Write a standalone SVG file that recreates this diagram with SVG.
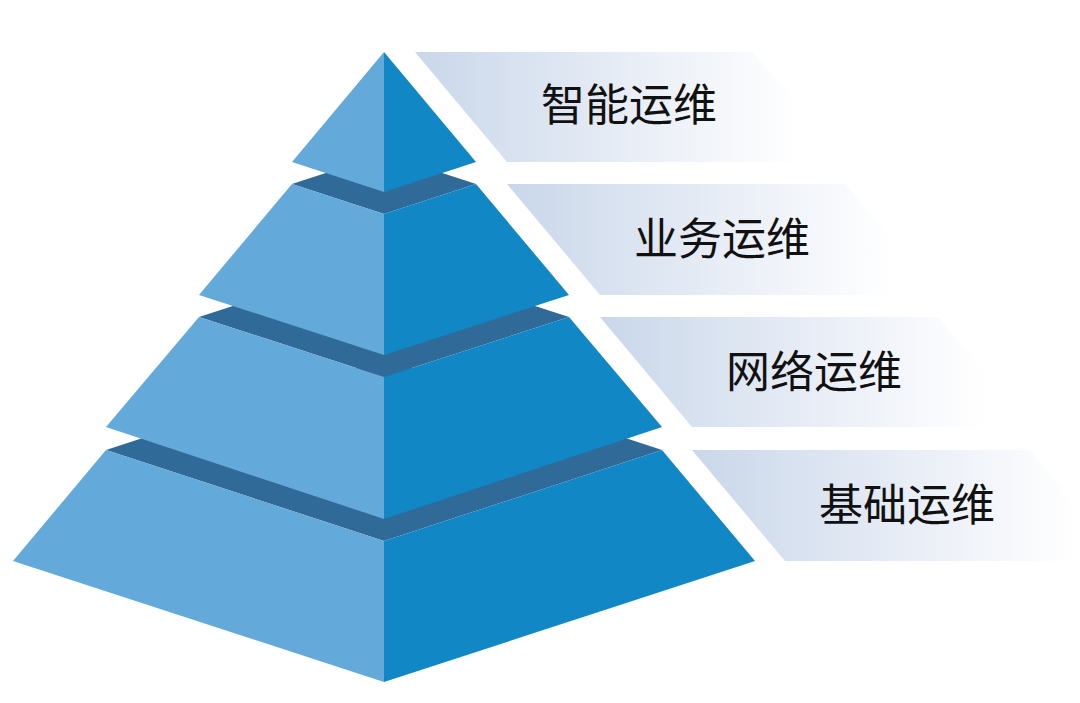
<svg xmlns="http://www.w3.org/2000/svg" width="1080" height="703" viewBox="0 0 1080 703">
  <defs>
    <linearGradient id="bannerGrad" x1="0" y1="0" x2="1" y2="0">
      <stop offset="0" stop-color="#c9d7ea"/>
      <stop offset="0.5" stop-color="#e5ebf5"/>
      <stop offset="1" stop-color="#ffffff"/>
    </linearGradient>
  </defs>
  <style>
    .left { fill: #63a9d9; }
    .right { fill: #1287c6; }
    .top { fill: #306a98; }
    .banner { fill: url(#bannerGrad); }
    .label { font-family: "Noto Sans CJK SC", "Noto Sans", sans-serif; font-size: 44px; fill: #111111; }
  </style>
  <rect width="1080" height="703" fill="#ffffff"/>

  <g id="banners">
    <g id="banner-1">
      <polygon class="banner" points="415,52 753,52 800,107 800,162 507,162"/>
      <text class="label" x="541" y="121">智能运维</text>
    </g>
    <g id="banner-2">
      <polygon class="banner" points="507,184 845,184 892,239 892,295 600,295"/>
      <text class="label" x="634" y="255">业务运维</text>
    </g>
    <g id="banner-3">
      <polygon class="banner" points="600,317 938,317 985,372 985,427 692,427"/>
      <text class="label" x="726" y="388">网络运维</text>
    </g>
    <g id="banner-4">
      <polygon class="banner" points="692,450 1030,450 1077,505 1077,561 785,561"/>
      <text class="label" x="819" y="521">基础运维</text>
    </g>
  </g>

  <g id="layer-4">
    <polygon class="top" points="106,450 384,359 662,450 384,541"/>
    <polygon class="left" points="106,450 384,541 384,682 13,561"/>
    <polygon class="right" points="662,450 384,541 384,682 755,561"/>
  </g>
  <g id="layer-3">
    <polygon class="top" points="199,317 384,257 569,317 384,377"/>
    <polygon class="left" points="199,317 384,377 384,519 106,427"/>
    <polygon class="right" points="569,317 384,377 384,519 662,427"/>
  </g>
  <g id="layer-2">
    <polygon class="top" points="292,184 384,154 476,184 384,214"/>
    <polygon class="left" points="292,184 384,214 384,355 199,295"/>
    <polygon class="right" points="476,184 384,214 384,355 569,295"/>
  </g>
  <g id="layer-1">
    <polygon class="left" points="384,52 384,192 292,162"/>
    <polygon class="right" points="384,52 476,162 384,192"/>
  </g>
</svg>
